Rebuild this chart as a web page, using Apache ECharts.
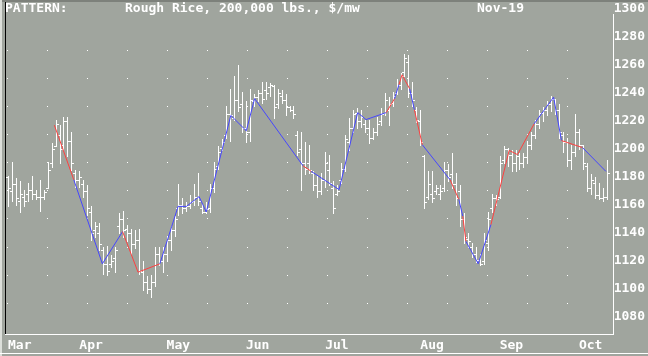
<!DOCTYPE html>
<html><head><meta charset="utf-8">
<script src="https://cdn.jsdelivr.net/npm/echarts/dist/echarts.min.js"></script>
<style>html,body{margin:0;padding:0;background:#a0a59e;}#c{width:648px;height:356px;}</style>
</head><body><div id="c"></div>
<script>
// Month labels and number of daily bars per month
const months = ['Mar','Apr','May','Jun','Jul','Aug','Sep','Oct'];
const monthBars = [18,22,20,20,24,20,20,8];

// Daily OHLC values ($/mw)
const open = [1180,1170,1175,1163,1166,1168,1171,1168,1166,1166,1172,1190,1202,1210,1203,1220,1206,1183,1178,1175,
1170,1155,1142,1140,1128,1118,1118,1122,1145,1150,1143,1140,1132,1135,1112,1105,1100,1105,1125,1120,
1125,1135,1142,1158,1160,1158,1159,1163,1166,1158,1155,1158,1172,1188,1201,1210,1225,1222,1235,1232,
1215,1212,1234,1237,1240,1242,1244,1245,1232,1238,1235,1230,1228,1210,1200,1190,1190,1183,1174,1170,
1178,1185,1172,1168,1178,1186,1205,1215,1226,1220,1218,1215,1208,1212,1220,1226,1228,1233,1240,1246,
1255,1262,1240,1228,1220,1195,1166,1168,1170,1168,1172,1185,1182,1175,1170,1150,1136,1130,1125,1121,
1120,1133,1158,1165,1166,1192,1200,1196,1190,1195,1190,1194,1203,1210,1218,1226,1228,1232,1236,1228,
1210,1205,1192,1198,1212,1203,1188,1172,1176,1167,1165,1166];
const high = [1181,1191,1179,1177,1171,1176,1181,1171,1178,1171,1191,1204,1221,1217,1223,1223,1212,1185,1184,1178,
1174,1159,1148,1147,1130,1131,1124,1130,1154,1156,1146,1143,1142,1143,1120,1109,1110,1130,1130,1130,
1138,1145,1152,1175,1165,1162,1167,1175,1183,1161,1162,1175,1191,1202,1207,1231,1243,1252,1260,1241,
1234,1243,1239,1242,1248,1248,1247,1246,1243,1242,1239,1231,1231,1213,1212,1205,1203,1184,1181,1183,
1198,1196,1177,1174,1190,1210,1222,1228,1229,1228,1221,1221,1215,1223,1229,1240,1237,1241,1250,1254,
1268,1267,1248,1230,1228,1196,1184,1184,1174,1174,1191,1189,1197,1183,1174,1154,1140,1133,1130,1125,
1140,1155,1168,1167,1195,1202,1201,1199,1199,1197,1197,1206,1212,1221,1228,1230,1234,1238,1236,1232,
1212,1208,1203,1225,1214,1203,1190,1182,1180,1176,1172,1192];
const low = [1159,1163,1160,1155,1159,1163,1164,1164,1156,1164,1172,1187,1202,1190,1199,1195,1185,1173,1173,1166,
1153,1135,1137,1128,1111,1110,1116,1112,1140,1137,1134,1125,1129,1111,1099,1097,1094,1102,1117,1112,
1120,1128,1138,1153,1154,1156,1158,1160,1160,1154,1154,1155,1169,1186,1199,1208,1206,1221,1227,1212,
1205,1206,1231,1234,1233,1236,1238,1222,1229,1233,1224,1227,1222,1196,1171,1182,1183,1171,1166,1168,
1173,1174,1154,1167,1176,1184,1199,1212,1215,1216,1212,1204,1207,1210,1217,1224,1217,1231,1239,1243,
1252,1237,1231,1219,1203,1158,1164,1162,1168,1164,1170,1177,1172,1160,1145,1133,1130,1123,1119,1117,
1118,1128,1155,1160,1165,1190,1188,1184,1184,1186,1187,1190,1200,1208,1215,1220,1224,1227,1225,1208,
1198,1188,1186,1195,1200,1186,1170,1168,1165,1164,1163,1164];
const close = [1172,1175,1165,1168,1163,1171,1168,1166,1166,1169,1185,1200,1218,1200,1220,1206,1190,1178,1180,1170,
1158,1140,1145,1132,1118,1113,1120,1128,1150,1142,1140,1132,1135,1113,1105,1100,1105,1125,1120,1125,
1135,1142,1150,1160,1158,1159,1162,1166,1163,1155,1157,1172,1186,1198,1205,1225,1224,1235,1230,1215,
1212,1235,1237,1240,1236,1240,1246,1230,1240,1235,1230,1228,1225,1198,1190,1186,1185,1174,1170,1178,
1190,1176,1158,1170,1186,1207,1215,1225,1220,1223,1215,1208,1212,1218,1225,1235,1232,1238,1246,1252,
1265,1240,1235,1221,1205,1162,1175,1165,1172,1170,1185,1180,1175,1165,1150,1137,1134,1125,1121,1118,
1135,1150,1165,1164,1190,1200,1196,1190,1195,1190,1194,1203,1210,1218,1226,1228,1232,1236,1228,1212,
1205,1192,1198,1212,1203,1190,1172,1178,1167,1165,1166,1183];

// Pattern line turning points (bar position, value) and colour of each segment
const patternBar = [11.7,16.6,23.8,28.9,32.8,38.3,42.9,45.0,48.2,50.0,56.2,60.1,62.2,74.4,76.5,83.5,88.2,90.3,95.4,97.5,
98.6,99.4,101.3,102.5,104.5,111.5,113.7,114.7,115.5,118.6,121.8,126.4,128.5,132.7,137.6,139.6,144.9,150.8];
const patternValue = [1217,1178,1118,1141,1112,1118,1159,1159,1166,1155,1224,1213,1236,1188,1184,1171,1226,1221,1226,1236,
1246,1253,1243,1228,1203,1178,1164,1152,1134,1118,1146,1199,1196,1218,1237,1206,1201,1184];
const patternSegment = ['R','B','B','R','R','B','B','B','B','B','B','B','B','R','B','B','B','B','R','B',
'R','R','B','R','B','R','B','R','B','B','R','R','R','B','B','R','B'];

// Y-axis tick labels
const yMin = 1080, yMax = 1300, yStep = 20;

const categories = [];
months.forEach((m, k) => { for (let d = 1; d <= monthBars[k]; d++) categories.push(m + ' ' + d); });

const ohlcData = categories.map((c, i) => [i, open[i], high[i], low[i], close[i]]);
const segData = patternSegment.map((s, k) => [patternBar[k], patternValue[k], patternBar[k+1], patternValue[k+1], s]);

const FONT = 'DejaVu Sans Mono';
const segColor = { R: '#ff4040', B: '#4646ff' };
const txt = { color: '#ffffff', fontFamily: FONT, fontWeight: 'bold', fontSize: 13 };

function renderOHLC(params, api) {
  const i = api.value(0);
  const o = api.coord([i, api.value(1)]);
  const h = api.coord([i, api.value(2)]);
  const l = api.coord([i, api.value(3)]);
  const c = api.coord([i, api.value(4)]);
  const n = Math.round(o[0]);
  const x = n + 0.5;
  const st = { stroke: '#ffffff', lineWidth: 1 };
  const oy = Math.round(o[1]) + 0.5, cy = Math.round(c[1]) + 0.5;
  return { type: 'group', children: [
    { type: 'line', shape: { x1: x, y1: Math.round(h[1]), x2: x, y2: Math.round(l[1]) + 1 }, style: st },
    { type: 'line', shape: { x1: n - 2, y1: oy, x2: n, y2: oy }, style: st },
    { type: 'line', shape: { x1: n + 1, y1: cy, x2: n + 3, y2: cy }, style: st }
  ]};
}
function renderSeg(params, api) {
  const p1 = api.coord([api.value(0), api.value(1)]);
  const p2 = api.coord([api.value(2), api.value(3)]);
  const s = segData[params.dataIndex][4];
  return { type: 'line', shape: { x1: p1[0], y1: p1[1], x2: p2[0], y2: p2[1] },
    style: { stroke: segColor[s], lineWidth: 1 } };
}

const chart = echarts.init(document.getElementById('c'));
chart.setOption({
  backgroundColor: '#a0a59e',
  animation: false,
  title: [
    { text: 'PATTERN:', left: 5, top: 2, padding: 0, textStyle: txt },
    { text: 'Rough Rice, 200,000 lbs., $/mw', left: 125, top: 2, padding: 0, textStyle: txt },
    { text: 'Nov-19', left: 477, top: 2, padding: 0, textStyle: txt }
  ],
  grid: [
    { left: 6, top: 9, width: 604, height: 308 },
    { left: 7, top: 50, width: 561, height: 253 }
  ],
  xAxis: [
    { gridIndex: 0, type: 'category', data: categories, boundaryGap: true,
      axisLine: { show: false }, axisTick: { show: false }, splitLine: { show: false },
      axisLabel: Object.assign({ interval: (idx, v) => v.endsWith(' 1'), formatter: v => v.split(' ')[0],
        align: 'left', margin: 22 }, txt) },
    { gridIndex: 0, type: 'value', min: -0.5, max: categories.length - 0.5, show: false },
    { gridIndex: 1, type: 'value', min: 0, max: 1, show: false }
  ],
  yAxis: [
    { gridIndex: 0, type: 'value', position: 'right', min: yMin, max: yMax, interval: yStep,
      axisLine: { show: false }, axisTick: { show: false }, splitLine: { show: false },
      axisLabel: Object.assign({ margin: 5, formatter: v => String(v) }, txt) },
    { gridIndex: 1, type: 'value', min: 0, max: 9, interval: 1,
      axisLine: { show: false }, axisTick: { show: false }, axisLabel: { show: false },
      splitLine: { show: true, lineStyle: { color: '#ffffff', width: 1, type: [1, 39] } } }
  ],
  series: [
    { type: 'custom', name: 'OHLC', xAxisIndex: 0, yAxisIndex: 0, data: ohlcData,
      encode: { x: 0, y: [1, 2, 3, 4] }, renderItem: renderOHLC, z: 3 },
    { type: 'custom', name: 'Pattern', xAxisIndex: 1, yAxisIndex: 0, data: segData.map(d => d.slice(0, 4)),
      encode: { x: [0, 2], y: [1, 3] }, renderItem: renderSeg, z: 4 }
  ],
  graphic: [
    { type: 'rect', shape: { x: 0, y: 0, width: 648, height: 2 }, style: { fill: '#7d817b' }, silent: true },
    { type: 'rect', shape: { x: 0, y: 0, width: 2, height: 356 }, style: { fill: '#dcdfda' }, silent: true },
    { type: 'rect', shape: { x: 5, y: 2, width: 1, height: 333 }, style: { fill: '#000000' }, silent: true },
    { type: 'rect', shape: { x: 5, y: 334, width: 609, height: 1 }, style: { fill: '#ffffff' }, silent: true },
    { type: 'rect', shape: { x: 613, y: 14, width: 1, height: 321 }, style: { fill: '#ffffff' }, silent: true },
    { type: 'rect', shape: { x: 0, y: 353, width: 648, height: 1 }, style: { fill: '#ffffff' }, silent: true }
  ]
});
</script>
</body></html>
